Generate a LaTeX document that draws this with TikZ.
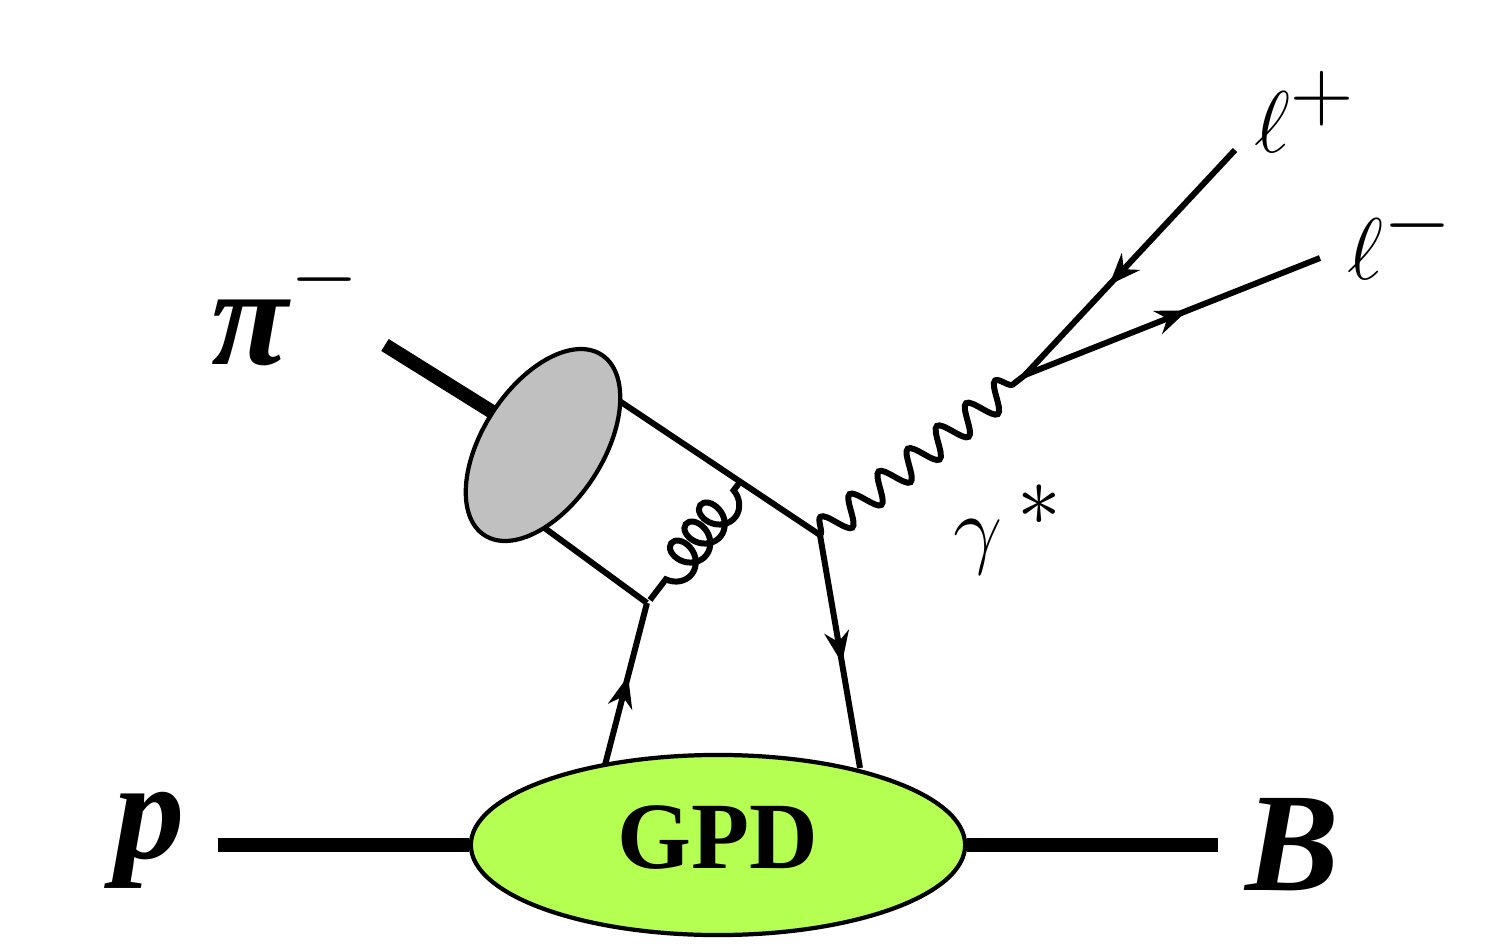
\documentclass[tikz,border=0pt]{standalone}
\usepackage{fontspec}
\setmainfont{Liberation Serif}
\usepackage{amsmath,bm}
\usetikzlibrary{decorations.pathmorphing,decorations.markings,arrows.meta,shapes.geometric}
\begin{document}
\begin{tikzpicture}[x=0.01cm,y=-0.01cm,
  fline/.style={line width=1.7pt},
  hline/.style={line width=4pt},
  midarrow/.style={decoration={markings,mark=at position #1 with {\arrow{Stealth[length=9pt,width=7pt]}}},postaction={decorate}},
  lab/.style={font=\fontsize{44}{48}\selectfont},
  blab/.style={font=\fontsize{40}{44}\selectfont\bfseries\itshape}]
\useasboundingbox (0,0) rectangle (1485,952);
% hadron lines
\coordinate (pin) at (218,845);
\coordinate (Bout) at (1218,845);
\node[draw,line width=1.2pt,fill={rgb,255:red,180;green,255;blue,82},ellipse,minimum width=4.94cm,minimum height=1.8cm,inner sep=0] (gpd) at (718,845) {};
\node[font=\fontsize{27}{30}\selectfont\bfseries] at (718,838) {GPD};
\draw[hline] (pin) -- (gpd.west);
\draw[hline] (gpd.east) -- (Bout);
\node[blab] (p) at (150,840) {p};
\node[blab] (B) at (1292,845) {B};
% quarks to GPD
\coordinate (q1a) at (605,765);
\coordinate (q1b) at (647,603);
\coordinate (q2a) at (820,535);
\coordinate (q2b) at (860,768);
\draw[fline,midarrow=0.55] (q1a) -- (q1b);
\draw[fline,midarrow=0.55] (q2a) -- (q2b);
% pion
\coordinate (pistart) at (385,345);
\draw[hline] (pistart) -- (510,423);
\coordinate (up1) at (600,388);
\coordinate (lo1) at (520,510);
\draw[fline] (up1) -- (q2a);
\draw[fline] (lo1) -- (q1b);
\node[draw,line width=1.2pt,fill={rgb,255:red,192;green,192;blue,192},ellipse,minimum width=1.2cm,minimum height=2.15cm,rotate=-33,inner sep=0] (blob) at (543,445) {};
% gluon
\coordinate (g1) at (650,600);
\coordinate (g2) at (740,482);
\draw[fline,decorate,decoration={coil,aspect=0.8,amplitude=5pt,segment length=6.8pt,pre length=3pt,post length=3pt}] (g2) -- (g1);
% photon
\coordinate (v) at (1025,375);
\draw[fline,decorate,decoration={snake,amplitude=4pt,segment length=10.5pt}] (q2a) -- (v);
\node[lab] (gam) at (1008,530) {$\gamma^{\,*}$};
% leptons
\coordinate (lp) at (1235,150);
\coordinate (lm) at (1320,258);
\draw[fline,midarrow=0.6] (lp) -- (v);
\draw[fline,midarrow=0.55] (v) -- (lm);
\node[lab] (lpl) at (1305,112) {$\ell^{+}$};
\node[lab] (lml) at (1400,238) {$\ell^{-}$};
\node[lab] (pil) at (285,308) {\fontsize{40}{44}\selectfont\textbf{\textit{π}}\raisebox{0.45em}{\fontsize{34}{36}\selectfont$-$}};
\end{tikzpicture}
\end{document}
